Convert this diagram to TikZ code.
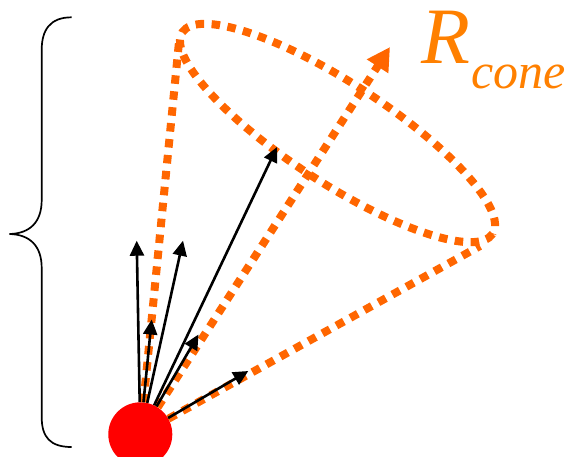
\documentclass[tikz,border=0pt]{standalone}
\usepackage{fontspec}
\setmainfont{Liberation Serif}[ItalicFont={Liberation Serif Italic}]
\usetikzlibrary{arrows.meta}
\definecolor{coneorange}{HTML}{FF6600}
\definecolor{labelorange}{HTML}{FF8000}

\begin{document}
\begin{tikzpicture}[
    x=1pt, y=-1pt,
    cone/.style={coneorange, line width=8pt, dash pattern=on 8.5pt off 7.5pt},
    arr/.style={-{Triangle[length=15pt, width=14pt]}, line width=2.6pt},
    src/.style={circle, fill=red, minimum size=64pt, inner sep=0pt}
]
\useasboundingbox (0,0) rectangle (569,456);
\node[src] (src) at (140.3,434.3) {};

% cone rim, its two sides and the cone axis
\coordinate (rimL) at (179,42);
\coordinate (rimR) at (480,246);
\coordinate (axis) at (390,47);
\draw[cone] (337.5,133) ellipse [x radius=185, y radius=50, rotate=-33];
\draw[cone] (src) -- (rimL);
\draw[cone] (src) -- (rimR);
\draw[cone, -{Triangle[length=23pt, width=24pt]}] (src) -- (axis);

% particle directions
\coordinate (t1) at (136.7,240.7);
\coordinate (t2) at (183,240.7);
\coordinate (t3) at (151.7,319.5);
\coordinate (t4) at (277,147);
\coordinate (t5) at (198.5,334.5);
\coordinate (t6) at (248.3,371);
\foreach \t in {t1,t2,t3,t4,t5,t6}
    \draw[arr] (src) -- (\t);

\node[labelorange, anchor=base west, inner sep=0pt] (rlabel) at (421,63)
    {\itshape\fontsize{80}{80}\selectfont R\kern1pt\raisebox{-25pt}{\fontsize{50}{50}\selectfont cone}};

% brace on the left
\draw[line width=1.7pt] (71.7,17.3) .. controls (50,17.3) and (41.7,30) .. (41.7,50)
    -- (41.7,200) .. controls (41.7,222) and (30,233.5) .. (9.5,234)
    .. controls (30,234.5) and (41.7,246) .. (41.7,268)
    -- (41.7,417) .. controls (41.7,437) and (50,447) .. (71.7,447);
\end{tikzpicture}
\end{document}
